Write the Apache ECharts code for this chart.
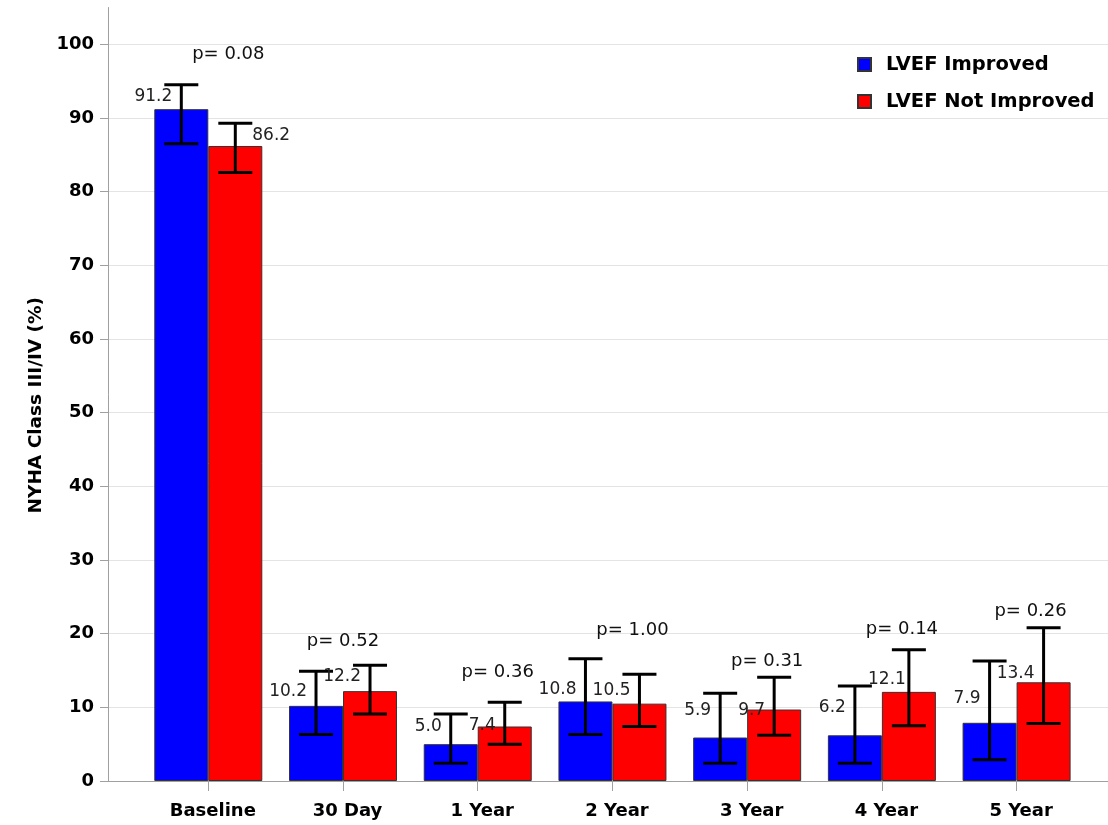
<!DOCTYPE html>
<html>
<head>
<meta charset="utf-8">
<script src="https://cdn.jsdelivr.net/npm/echarts@6/dist/echarts.min.js"></script>
<style>
  html, body { margin: 0; padding: 0; background: #ffffff; }
  #chart { width: 1108px; height: 825px; }
</style>
</head>
<body>
<div id="chart"></div>
<script>
// NYHA class III/IV share (%) over follow-up, by LVEF response
const categories = ['Baseline', '30 Day', '1 Year', '2 Year', '3 Year', '4 Year', '5 Year'];

const improved        = [91.2, 10.2, 5.0, 10.8, 5.9, 6.2, 7.9];
const improvedLow     = [86.5, 6.3, 2.4, 6.3, 2.4, 2.4, 2.9];
const improvedHigh    = [94.5, 14.9, 9.1, 16.6, 11.9, 12.9, 16.3];

const notImproved     = [86.2, 12.2, 7.4, 10.5, 9.7, 12.1, 13.4];
const notImprovedLow  = [82.6, 9.1, 5.0, 7.4, 6.2, 7.5, 7.8];
const notImprovedHigh = [89.3, 15.7, 10.7, 14.5, 14.1, 17.8, 20.8];

const pValues = ['0.08', '0.52', '0.36', '1.00', '0.31', '0.14', '0.26'];

const yTicks = [0, 10, 20, 30, 40, 50, 60, 70, 80, 90, 100];

// Annotation placement (pixel nudges from the bar top; p-label height in axis units)
const improvedLabelNudge    = [[-9, -13, 'right'], [-9, -14.5, 'right'], [-9, -18, 'right'], [-9, -11.5, 'right'], [-9, -26.5, 'right'], [-9, -28, 'right'], [-9, -24, 'right']];
const notImprovedLabelNudge = [[17, -10.5, 'left'], [-9, -15, 'right'], [-9, -0.5, 'right'], [-9, -13.5, 'right'], [-9, 1.5, 'right'], [-3, -12, 'right'], [-9, -9, 'right']];
const pLabelShift = [20, 0, 20, 20, 20, 20, 14];
const pLabelLevel = [98.6, 19.0, 14.7, 20.5, 16.2, 20.6, 23.0];

const BAR_W = 54;
const CAP_HALF = 17;
const FAMILY = '"DejaVu Sans", sans-serif';
const LABEL_FONT = '17px ' + FAMILY;

function errorBarRenderer(side, nudges) {
  return function (params, api) {
    const idx = api.value(0);
    const val = api.value(1);
    const lo = api.value(2);
    const hi = api.value(3);
    const base = api.coord([idx, val]);
    const x = base[0] + side * BAR_W / 2;
    const yTop = base[1];
    const yLo = api.coord([idx, lo])[1];
    const yHi = api.coord([idx, hi])[1];
    const lineStyle = { stroke: '#000000', lineWidth: 3 };
    const n = nudges[idx];
    return {
      type: 'group',
      children: [
        { type: 'line', shape: { x1: x, y1: yLo, x2: x, y2: yHi }, style: lineStyle },
        { type: 'line', shape: { x1: x - CAP_HALF, y1: yHi, x2: x + CAP_HALF, y2: yHi }, style: lineStyle },
        { type: 'line', shape: { x1: x - CAP_HALF, y1: yLo, x2: x + CAP_HALF, y2: yLo }, style: lineStyle },
        {
          type: 'text',
          style: {
            text: val.toFixed(1),
            x: x + n[0],
            y: yTop + n[1],
            align: n[2],
            verticalAlign: 'middle',
            font: LABEL_FONT,
            fill: '#222222'
          }
        }
      ]
    };
  };
}

function zip(vals, lows, highs) {
  return vals.map((v, i) => [i, v, lows[i], highs[i]]);
}

const chart = echarts.init(document.getElementById('chart'), null, { renderer: 'canvas' });

chart.setOption({
  animation: false,
  backgroundColor: '#ffffff',
  grid: [
    // frame: axis lines, value ticks, gridlines
    { left: 108, right: 0, top: 7.5, bottom: 44 },
    // plotting band for the seven time points
    { left: 140.95, right: 24.05, top: 7.5, bottom: 44 }
  ],
  xAxis: [
    {
      gridIndex: 0, type: 'value', min: 0, max: 1,
      axisLine: { show: true, lineStyle: { color: '#a0a0a0', width: 1 } },
      axisTick: { show: false }, axisLabel: { show: false }, splitLine: { show: false }
    },
    {
      gridIndex: 1, type: 'category', data: categories,
      axisLine: { show: false },
      axisTick: { show: true, alignWithLabel: true, length: 10, lineStyle: { color: '#a0a0a0' } },
      axisLabel: {
        margin: 21, fontFamily: FAMILY, fontWeight: 'bold', fontSize: 18,
        color: '#000000', padding: [0, 0, 0, 9]
      }
    }
  ],
  yAxis: [
    {
      gridIndex: 0, type: 'value', min: 0, max: 105, interval: 10,
      name: 'NYHA Class III/IV (%)',
      nameLocation: 'middle',
      nameGap: 62,
      nameTextStyle: {
        fontFamily: FAMILY, fontWeight: 'bold', fontSize: 18.5,
        color: '#000000', padding: [0, 22, 0, 0]
      },
      axisLine: { show: true, lineStyle: { color: '#a0a0a0', width: 1 } },
      axisTick: { show: true, length: 8, customValues: yTicks, lineStyle: { color: '#a0a0a0' } },
      axisLabel: {
        margin: 14, customValues: yTicks,
        fontFamily: FAMILY, fontWeight: 'bold', fontSize: 18, color: '#000000'
      },
      splitLine: { show: true, showMinLine: false, lineStyle: { color: '#e4e4e4', width: 1 } }
    },
    {
      gridIndex: 1, type: 'value', min: 0, max: 105, show: false, splitLine: { show: false }
    }
  ],
  legend: {
    data: ['LVEF Improved', 'LVEF Not Improved'],
    orient: 'vertical',
    left: 852,
    top: 49,
    icon: 'rect',
    itemWidth: 13,
    itemHeight: 13,
    itemGap: 16,
    textStyle: {
      fontFamily: FAMILY, fontWeight: 'bold', fontSize: 19.5,
      color: '#000000', padding: [0, 0, 0, 10], lineHeight: 21
    }
  },
  series: [
    {
      name: 'LVEF Improved', type: 'bar', xAxisIndex: 1, yAxisIndex: 1,
      data: improved, barWidth: BAR_W, barGap: '0%',
      itemStyle: { color: '#0000ff', borderColor: '#333333', borderWidth: 1 }
    },
    {
      name: 'LVEF Not Improved', type: 'bar', xAxisIndex: 1, yAxisIndex: 1,
      data: notImproved, barWidth: BAR_W, barGap: '0%',
      itemStyle: { color: '#ff0000', borderColor: '#333333', borderWidth: 1 }
    },
    {
      type: 'custom', xAxisIndex: 1, yAxisIndex: 1, z: 5,
      data: zip(improved, improvedLow, improvedHigh),
      renderItem: errorBarRenderer(-1, improvedLabelNudge),
      silent: true
    },
    {
      type: 'custom', xAxisIndex: 1, yAxisIndex: 1, z: 5,
      data: zip(notImproved, notImprovedLow, notImprovedHigh),
      renderItem: errorBarRenderer(1, notImprovedLabelNudge),
      silent: true
    },
    {
      type: 'custom', xAxisIndex: 1, yAxisIndex: 1, z: 6,
      data: pValues.map((p, i) => [i, pLabelLevel[i]]),
      renderItem: function (params, api) {
        const idx = api.value(0);
        const pt = api.coord([idx, api.value(1)]);
        return {
          type: 'text',
          style: {
            text: 'p= ' + pValues[idx],
            x: pt[0] + pLabelShift[idx],
            y: pt[1],
            align: 'center',
            verticalAlign: 'middle',
            font: '18px ' + FAMILY,
            fill: '#111111'
          }
        };
      },
      silent: true
    }
  ]
});
</script>
</body>
</html>
